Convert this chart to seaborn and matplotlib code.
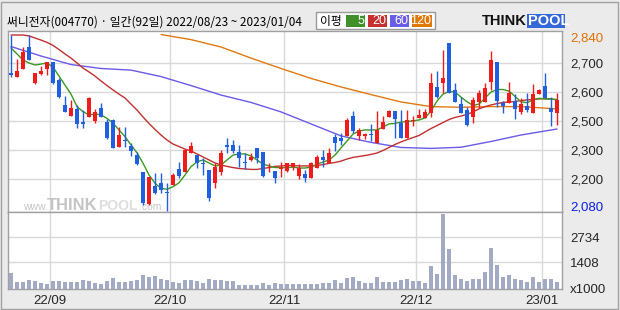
import numpy as np
import pandas as pd
import matplotlib
matplotlib.use("Agg")
import matplotlib.pyplot as plt
import seaborn as sns
from matplotlib.patches import Rectangle

sns.set_theme(style="white")
plt.rcParams['font.family'] = ['Noto Sans CJK KR', 'DejaVu Sans']

# ---------------- data ----------------
opens = [2677, 2659, 2691, 2789, 2633, 2672, 2691, 2724, 2645, 2537,
         2491, 2520, 2465, 2484, 2469, 2523, 2465, 2472, 2356, 2385,
         2361, 2320, 2248, 2107, 2188, 2200, 2160, 2190, 2258, 2246,
         2330, 2320, 2286, 2255, 2200, 2248, 2364, 2364, 2335, 2289,
         2299, 2351, 2332, 2264, 2251, 2258, 2251, 2270, 2231, 2238,
         2222, 2265, 2313, 2284, 2400, 2393, 2403, 2489, 2403, 2403,
         2411, 2374, 2433, 2484, 2511, 2460, 2395, 2468, 2482, 2482,
         2504, 2616, 2633, 2807, 2602, 2541, 2515, 2484, 2551, 2549,
         2638, 2722, 2544, 2547, 2554, 2508, 2533, 2504, 2583, 2619,
         2525, 2504]
highs = [2840, 2735, 2787, 2840, 2677, 2706, 2722, 2724, 2653, 2576,
         2559, 2537, 2515, 2573, 2520, 2544, 2475, 2476, 2443, 2443,
         2374, 2335, 2248, 2226, 2244, 2241, 2198, 2241, 2290, 2342,
         2378, 2320, 2306, 2255, 2284, 2342, 2392, 2385, 2364, 2330,
         2330, 2351, 2332, 2287, 2251, 2289, 2284, 2284, 2280, 2255,
         2291, 2320, 2342, 2349, 2410, 2414, 2482, 2511, 2439, 2417,
         2453, 2511, 2489, 2515, 2511, 2515, 2515, 2489, 2520, 2520,
         2677, 2684, 2775, 2807, 2633, 2573, 2530, 2573, 2602, 2633,
         2772, 2722, 2554, 2638, 2583, 2566, 2590, 2627, 2605, 2677,
         2573, 2588]
lows = [2659, 2659, 2691, 2732, 2628, 2668, 2668, 2628, 2566, 2508,
        2491, 2436, 2436, 2484, 2458, 2484, 2390, 2349, 2356, 2356,
        2316, 2278, 2104, 2104, 2150, 2155, 2080, 2190, 2219, 2246,
        2330, 2263, 2234, 2123, 2176, 2234, 2330, 2330, 2267, 2258,
        2296, 2284, 2226, 2248, 2198, 2226, 2246, 2255, 2216, 2205,
        2222, 2265, 2270, 2284, 2339, 2364, 2403, 2414, 2385, 2390,
        2381, 2374, 2433, 2484, 2395, 2395, 2392, 2447, 2482, 2482,
        2484, 2566, 2588, 2588, 2551, 2504, 2447, 2458, 2523, 2549,
        2602, 2530, 2504, 2547, 2478, 2497, 2508, 2504, 2583, 2566,
        2446, 2450]
closes = [2668, 2684, 2766, 2732, 2677, 2684, 2722, 2631, 2573, 2508,
          2523, 2453, 2453, 2569, 2508, 2484, 2396, 2349, 2407, 2380,
          2339, 2281, 2111, 2226, 2155, 2169, 2156, 2234, 2229, 2342,
          2359, 2287, 2281, 2133, 2270, 2328, 2357, 2339, 2309, 2286,
          2313, 2309, 2229, 2270, 2222, 2270, 2284, 2284, 2265, 2222,
          2287, 2313, 2299, 2328, 2374, 2381, 2472, 2424, 2429, 2411,
          2409, 2429, 2462, 2511, 2475, 2395, 2472, 2473, 2494, 2508,
          2633, 2573, 2655, 2588, 2551, 2504, 2450, 2559, 2590, 2612,
          2732, 2556, 2534, 2590, 2520, 2541, 2515, 2583, 2602, 2566,
          2508, 2559]
volumes = [848, 355, 355, 461, 408, 318, 249, 408, 408, 355,
           355, 355, 445, 408, 302, 265, 424, 567, 355, 355,
           408, 461, 726, 620, 673, 498, 461, 371, 318, 445,
           445, 408, 302, 514, 461, 461, 408, 408, 212, 180,
           180, 196, 286, 196, 286, 249, 233, 233, 249, 265,
           249, 233, 286, 318, 461, 318, 567, 620, 424, 286,
           318, 620, 339, 371, 339, 461, 514, 392, 424, 318,
           1204, 779, 3962, 2106, 726, 514, 408, 514, 514, 885,
           2141, 1257, 620, 726, 514, 461, 371, 620, 371, 514,
           514, 371]
ma5 = [2784, 2758, 2732, 2719, 2710, 2714, 2719, 2701, 2662, 2623,
       2584, 2530, 2508, 2494, 2498, 2494, 2479, 2458, 2429, 2400,
       2364, 2330, 2285, 2234, 2198, 2176, 2172, 2183, 2200, 2234,
       2270, 2291, 2299, 2286, 2273, 2277, 2299, 2320, 2325, 2325,
       2316, 2299, 2281, 2273, 2266, 2266, 2266, 2268, 2264, 2264,
       2268, 2281, 2290, 2299, 2320, 2351, 2381, 2411, 2424, 2429,
       2429, 2429, 2442, 2455, 2457, 2463, 2465, 2468, 2472, 2481,
       2511, 2554, 2584, 2595, 2593, 2571, 2551, 2535, 2541, 2567,
       2593, 2604, 2604, 2597, 2574, 2551, 2547, 2559, 2566, 2563,
       2562, 2561]
ma20 = [2840, 2840, 2840, 2836, 2827, 2818, 2808, 2795, 2777, 2758,
        2740, 2719, 2697, 2680, 2662, 2641, 2621, 2602, 2584, 2567,
        2541, 2515, 2485, 2457, 2431, 2407, 2385, 2368, 2357, 2346,
        2338, 2325, 2312, 2299, 2286, 2277, 2271, 2266, 2262, 2260,
        2258, 2258, 2262, 2266, 2271, 2273, 2275, 2275, 2273, 2273,
        2273, 2275, 2279, 2284, 2288, 2294, 2303, 2310, 2314, 2318,
        2323, 2329, 2340, 2353, 2366, 2377, 2387, 2396, 2405, 2420,
        2435, 2448, 2461, 2474, 2483, 2489, 2496, 2507, 2520, 2530,
        2537, 2543, 2548, 2550, 2552, 2556, 2559, 2561, 2563, 2565,
        2563, 2559]
ma60_day = [0, 5, 10, 15, 20, 25, 30, 35, 40, 45, 50, 55, 60, 65, 70, 75, 80, 85, 91]
ma60 = [2790, 2749, 2712, 2695, 2688, 2660, 2621, 2580, 2548, 2507,
        2455, 2403, 2375, 2353, 2349, 2354, 2379, 2407, 2433]
ma120_day = [25, 30, 35, 40, 45, 50, 55, 60, 65, 70, 75, 80, 85, 91]
ma120 = [2842, 2820, 2788, 2740, 2695, 2652, 2615, 2582, 2550, 2530,
         2527, 2530, 2530, 2520]

month_bounds = [6.5, 26.5, 45.5, 67.5, 88.5]
month_labels = ['22/09', '22/10', '22/11', '22/12', '23/01']
price_grid = [2717.5, 2592, 2467.6, 2342, 2216.5]
price_ticks = [2831] + price_grid + [2100]
price_labels = ['2,840', '2,700', '2,600', '2,500', '2,300', '2,200', '2,080']
vol_ticks = [0, 1408, 2734]
vol_labels = ['x1000', '1408', '2734']
title = '써니전자(004770) · 일간(92일) 2022/08/23 ~ 2023/01/04'
ma_names = ['5', '20', '60', '120']

# ---------------- styles ----------------
C_UP, C_DN = '#f01c1c', '#2060e0'
C_MA = ['#3a9a20', '#c03030', '#6a5ae6', '#e07810']
C_BOX = ['#3f8f2a', '#c62f2f', '#6b5ce6', '#e07808']
C_GRID = '#d9d9d9'
C_SPINE = '#a0a0a0'
NUMFONT = ['Liberation Sans', 'DejaVu Sans']

W, H = 620, 310
def frac(x0, y0, x1, y1):
    return [x0 / W, 1 - y1 / H, (x1 - x0) / W, (y1 - y0) / H]

fig = plt.figure(figsize=(6.2, 3.1), dpi=100, facecolor='#ebebeb')
axp = fig.add_axes(frac(8, 31, 562, 212))
axv = fig.add_axes(frac(8, 212, 562, 288.5), sharex=axp)

df = pd.DataFrame({'day': np.arange(len(opens)), 'open': opens, 'high': highs,
                   'low': lows, 'close': closes, 'vol': volumes,
                   'ma5': ma5, 'ma20': ma20})
up = df['close'] >= df['open']
cols = np.where(up, C_UP, C_DN)

# gridlines
for g in price_grid:
    axp.axhline(g, color=C_GRID, lw=1, zorder=0.5)
for ax in (axp, axv):
    for m in month_bounds:
        ax.axvline(m, color=C_GRID, lw=1, zorder=0.5)
for g in vol_ticks[1:]:
    axv.axhline(g, color=C_GRID, lw=1, zorder=0.5)

# watermark
def axfx(x):
    return (x - 8) / 554
wy = (212 - 209.5) / 181
axp.text(axfx(23), wy, 'www.', transform=axp.transAxes, fontsize=7.5, color='#c4c4c4',
         family=NUMFONT, zorder=0.6)
axp.text(axfx(47), wy, 'THINK', transform=axp.transAxes, fontsize=12, color='#c4c4c4',
         family=NUMFONT, fontweight='bold', zorder=0.6)
axp.text(axfx(98), wy, 'POOL', transform=axp.transAxes, fontsize=10, color='#dedede',
         family=NUMFONT, fontweight='bold', zorder=0.6)
axp.text(axfx(139.5), wy, '.com', transform=axp.transAxes, fontsize=7.5, color='#c4c4c4',
         family=NUMFONT, zorder=0.6)

# moving averages
sns.lineplot(x=ma120_day, y=ma120, ax=axp, color=C_MA[3], lw=1, legend=False, zorder=2)
sns.lineplot(x=ma60_day, y=ma60, ax=axp, color=C_MA[2], lw=1, legend=False, zorder=2)
sns.lineplot(data=df, x='day', y='ma20', ax=axp, color=C_MA[1], lw=1, legend=False, zorder=2)
sns.lineplot(data=df, x='day', y='ma5', ax=axp, color=C_MA[0], lw=1, legend=False, zorder=2)

# candles
axp.vlines(df['day'], df['low'], df['high'], colors=cols, lw=1, zorder=3)
body_lo = np.minimum(df['open'], df['close'])
body_h = np.maximum(np.abs(df['close'] - df['open']), 4)
axp.bar(df['day'], body_h, bottom=body_lo, width=0.78, color=cols, lw=0, zorder=4)

# volume
sns.barplot(data=df, x='day', y='vol', native_scale=True, color='#a3abc4',
            saturation=1, width=0.8, linewidth=0, ax=axv, zorder=3)

# axes limits & ticks
axp.set_xlim(-0.5, 91.83)
axp.set_ylim(2073.6, 2857.3)
axv.set_ylim(0, 4065)

axp.yaxis.tick_right()
axp.set_yticks(price_ticks)
axp.set_yticklabels(price_labels, family=NUMFONT, fontsize=9.5)
lbls = axp.get_yticklabels()
lbls[0].set_color('#e07000')
lbls[-1].set_color('#0a1ee0')
axp.tick_params(axis='y', length=0, pad=6)
axp.tick_params(axis='x', bottom=False, labelbottom=False)

axv.yaxis.tick_right()
axv.set_yticks(vol_ticks)
axv.set_yticklabels(vol_labels, family=NUMFONT, fontsize=9.5)
axv.tick_params(axis='y', length=0, pad=6)
axv.set_xticks(month_bounds)
axv.set_xticklabels(month_labels, family=NUMFONT, fontsize=9.5)
axv.tick_params(axis='x', length=0, pad=5)
for ax in (axp, axv):
    ax.set_xlabel('')
    ax.set_ylabel('')
    ax.set_facecolor('white')
    for s in ax.spines.values():
        s.set_color(C_SPINE)
        s.set_linewidth(1)
        s.set_visible(True)

# title
fig.text(7 / W, 1 - 22.5 / H, title, fontsize=8.5, va='center', ha='left', color='black')

# legend box
def px(x, y):
    return (x / W, 1 - y / H)
fig.patches.append(Rectangle(px(316, 29), 119 / W, 17 / H, transform=fig.transFigure,
                             facecolor='white', edgecolor='#9a9a9a', lw=1))
fig.text(320 / W, 1 - 21 / H, '이평', fontsize=8.5, va='center', ha='left', color='black')
box_x = [346, 368, 390, 412]
box_w = [19, 19, 19, 20]
for bx, bw, bc, nm in zip(box_x, box_w, C_BOX, ma_names):
    fig.patches.append(Rectangle(px(bx, 27), bw / W, 12 / H, transform=fig.transFigure,
                                 facecolor=bc, edgecolor='none'))
    fig.text((bx + bw - 1) / W, 1 - 21 / H, nm, fontsize=9, va='center', ha='right',
             color='white', family=NUMFONT)

# THINKPOOL logo
fig.text(482 / W, 1 - 21 / H, 'THINK', fontsize=10.5, fontweight='bold', va='center',
         ha='left', color='#111111', family=NUMFONT)
fig.patches.append(Rectangle(px(527, 28), 38 / W, 14 / H, transform=fig.transFigure,
                             facecolor='#3468d8', edgecolor='none'))
fig.text(528 / W, 1 - 21 / H, 'POOL', fontsize=10.5, fontweight='bold', va='center',
         ha='left', color='white', family=NUMFONT)

# outer frame
fig.patches.append(Rectangle((1 / W, 1 / H), 617 / W, 307 / H, transform=fig.transFigure,
                             facecolor='none', edgecolor='#a0a0a0', lw=1))

fig.savefig('out.png', dpi=100, facecolor=fig.get_facecolor())
